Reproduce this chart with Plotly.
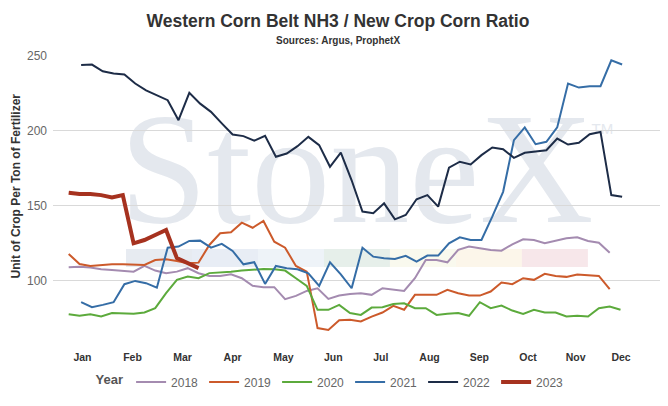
import plotly.graph_objects as go

# weekly ratio values
YEARS = ['2018', '2019', '2020', '2021', '2022', '2023']

Y2018 = [108.9, 109.3, 108.7, 107.6, 107.1, 106.7, 106, 109.8, 106.7, 104.9,
         106, 108.3, 104.9, 103.1, 103.1, 104.2, 101.6, 96.5, 95.6, 95.6,
         87.6, 89.8, 93.1, 94.9, 87.8, 90, 91.1, 91.6, 90.5, 94.9,
         93.8, 93.1, 101.6, 113.7, 113.7, 112.2, 120.5, 122.7, 121.6, 120.5,
         120, 124.2, 127.6, 127.1, 124.9, 126.5, 128.3, 128.9, 126.5, 125.3,
         118.6]
Y2019 = [117.8, 111.1, 109.8, 110.5, 110.9, 110.9, 110.9, 110.5, 113.7, 114.2,
         113.1, 111.6, 112, 123.8, 131.6, 132.3, 138.7, 135.3, 139.8, 126,
         122, 109.8, 106, 68.3, 67.1, 73.5, 73.8, 72.7, 76, 78.7,
         83.1, 80.5, 90.5, 90.5, 90.5, 93.8, 91.6, 90, 90, 92.7,
         98.7, 97.6, 101.6, 100.5, 104.5, 103.1, 102.5, 104, 103.6, 103.1,
         94.3]
Y2020 = [77.6, 76.5, 77.6, 76, 78.3, 78.3, 77.8, 78.7, 81.6, 91.6,
         100.5, 102.7, 101.6, 105, 105.3, 106, 106.7, 107.1, 107.8, 107.6,
         106.7, 101.6, 96.5, 80.5, 80.5, 83.8, 78.3, 77.1, 82, 82.2,
         84.4, 84.9, 81.6, 81.6, 77.1, 77.8, 78.3, 76.5, 85.6, 81.6,
         83.3, 80, 77.8, 80.5, 78.7, 78.7, 76, 76.5, 76, 81.6,
         82.7, 80.5]
Y2021 = [85.6, 82.2, 83.8, 85.6, 97.6, 99.8, 98.3, 95.3, 122, 122.7,
         126.5, 126.7, 122, 124.5, 119.8, 110.9, 112.3, 97.8, 109.8, 108.3,
         107.6, 104.9, 96.5, 112.2, 104.2, 94.9, 122, 116, 114.9, 114.4,
         116.5, 112.7, 116.7, 116.7, 124.9, 128.9, 127.1, 127.1, 142.7, 159.3,
         193.8, 202.3, 191.1, 192.7, 202.3, 231.6, 228.9, 229.8, 229.8, 247.1,
         244.3]
Y2022 = [244, 244.3, 239.8, 238.3, 237.6, 231.6, 227.1, 223.8, 220.5, 207.1,
         225.4, 218.2, 212.7, 205, 197.6, 196.5, 193.4, 196.7, 182.7, 184.9,
         189.8, 196, 190.5, 176, 185.4, 167, 146.1, 145, 151.6, 140.9,
         143.8, 154.3, 157.1, 149.4, 175.4, 179.4, 177.6, 183.8, 188.9, 187.8,
         182, 185.4, 186, 187.1, 194.9, 190.9, 192, 197.8, 199.3, 157.1,
         156]
Y2023 = [158.7, 157.8, 157.8, 157.1, 155.6, 157.1, 124.9, 127.1, 130.5, 133.8,
         115, 111.6, 108.3]

# week of the first observation for each year (weeks counted from early Jan)
START_WEEK = [-1.15, -1.15, -1.15, 0, 0, -1.15]

MONTHS = ['Jan', 'Feb', 'Mar', 'Apr', 'May', 'Jun',
          'Jul', 'Aug', 'Sep', 'Oct', 'Nov', 'Dec']
MONTH_WEEK = [0.12, 4.75, 9.38, 14.0, 18.7, 23.3, 27.7, 32.2, 36.8, 41.3, 45.7, 49.9]

COLORS = ['#a48bb0', '#cc5a2b', '#5caa3c', '#356da6', '#1d2c47', '#a6321f']
WIDTHS = [2, 2, 2, 2, 2, 4]

series = [Y2018, Y2019, Y2020, Y2021, Y2022, Y2023]

fig = go.Figure()
for name, ys, x0, color, w in zip(YEARS, series, START_WEEK, COLORS, WIDTHS):
    fig.add_trace(go.Scatter(
        x=[x0 + i for i in range(len(ys))],
        y=ys,
        mode='lines',
        name=name,
        line=dict(color=color, width=w),
    ))

# StoneX watermark (text + coloured stripe), drawn under the grid
WM = '#e4e8ee'
shapes = [dict(
    type='rect', xref='paper', yref='paper',
    x0=0.05, x1=0.95, y0=0.47, y1=0.87,
    line=dict(width=0), fillcolor='rgba(0,0,0,0)', layer='below',
    label=dict(text='StoneX', textposition='middle center',
               font=dict(family='Liberation Serif', size=158, color=WM)),
)]
shapes.append(dict(
    type='rect', xref='paper', yref='paper',
    x0=0.855, x1=0.955, y0=0.711, y1=0.791,
    line=dict(width=0), fillcolor='rgba(0,0,0,0)', layer='below',
    label=dict(text='TM', textposition='middle center',
               font=dict(family='Liberation Sans', size=15, color=WM)),
))
stripe = ['#e7ebf1', '#e8edf5', '#eef3f8', '#e6efea', '#f9f9ee', '#fcf6ea', '#f7e7ea']
for k, c in enumerate(stripe):
    shapes.append(dict(
        type='rect', xref='paper', yref='paper',
        x0=0.1203 + k * 0.1087, x1=0.1203 + (k + 1) * 0.1087,
        y0=0.270, y1=0.332,
        line=dict(width=0), fillcolor=c, layer='below',
    ))

fig.update_layout(
    width=660, height=398,
    margin=dict(l=45, r=8, t=48, b=61),
    plot_bgcolor='white', paper_bgcolor='white',
    font=dict(family='Liberation Sans', color='#333333'),
    title=dict(text='<b>Western Corn Belt NH3 / New Crop Corn Ratio</b>',
               x=0.5, xanchor='center', y=0.967, yanchor='middle',
               font=dict(size=17.5, color='#333333')),
    annotations=[
        dict(text='<b>Sources: Argus, ProphetX</b>', xref='paper', yref='paper',
             x=0.469, y=1.055, xanchor='center', yanchor='middle', showarrow=False,
             font=dict(size=10, color='#333333')),
        dict(text='<b>Unit of Crop Per Ton of Fertilizer</b>', xref='paper', yref='paper',
             x=-0.061, y=0.552, xanchor='center', yanchor='middle', showarrow=False,
             textangle=-90, font=dict(size=12, color='#333333')),
    ],
    shapes=shapes,
    showlegend=True,
    legend=dict(orientation='h', x=0.459, xanchor='center', y=-0.128, yanchor='middle',
                entrywidth=28,
                title=dict(text='<b>Year</b>', font=dict(size=13, color='#555555')),
                font=dict(size=12, color='#666666')),
)

fig.update_xaxes(range=[-2.6, 53.5], tickvals=MONTH_WEEK,
                 ticktext=['<b>%s</b>' % m for m in MONTHS],
                 tickfont=dict(size=10.5, color='#333333'), ticklabelstandoff=4,
                 showgrid=False, zeroline=False, showline=False, ticks='')
fig.update_yaxes(range=[57, 250], tickvals=[100, 150, 200, 250],
                 tickfont=dict(size=12, color='#666666'), ticklabelstandoff=5,
                 gridcolor='#d9d9d9', gridwidth=1, zeroline=False, showline=False)

fig.write_html('out.html')
